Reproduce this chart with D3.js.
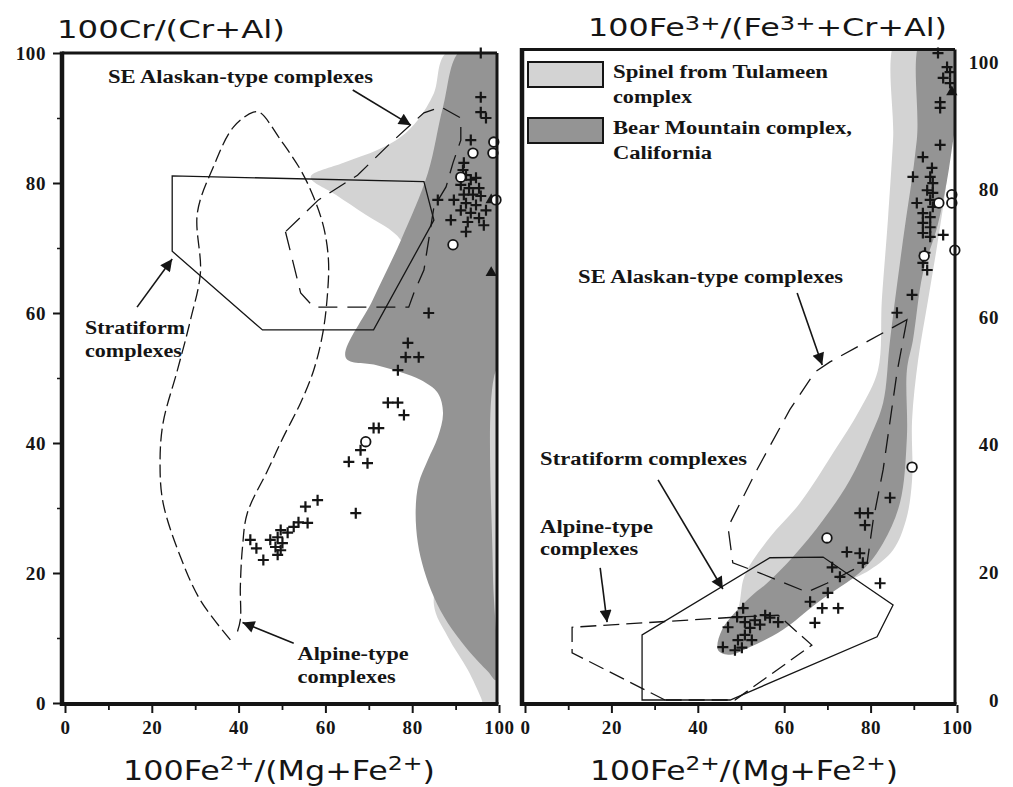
<!DOCTYPE html>
<html><head><meta charset="utf-8">
<script src="https://cdn.jsdelivr.net/npm/d3@7"></script>
<style>
body{margin:0;background:#fff;}
svg{display:block;}
.lab{font-family:"Liberation Serif","Times New Roman",serif;font-weight:bold;font-size:18px;fill:#151515;}
.title{font-family:"DejaVu Sans",Verdana,sans-serif;fill:#151515;}
.tick text{font-family:"Liberation Serif","Times New Roman",serif;font-weight:bold;font-size:19px;letter-spacing:0.6px;fill:#151515;}
</style></head><body>
<svg id="c" width="1013" height="787"></svg>
<script>
// ---------- LEFT PANEL: 100Cr/(Cr+Al) vs 100Fe2+/(Mg+Fe2+) ----------
const leftTulameen = [[87.8,100],[102,102],[102,-2],[97.0,-1],[95.8,0.9],[92.8,5.1],[88.2,10.2],[85.0,15.1],[87.8,25.1],[90.1,38.9],[87.8,49.7],[82.0,62.0],[77.4,71.2],[69.3,75.1],[62.4,78.2],[56.6,80.9],[64.2,83.1],[72.1,85.1],[77.4,87.1],[81.3,89.7],[85.0,93.8]];
const leftBearMtn = [[91.2,100.5],[102,102],[102,55],[98.8,50],[98.6,20],[99.3,3.5],[97.5,4.8],[92.8,8.2],[88.2,12.3],[85.0,16.3],[82.7,20.5],[81.3,24.6],[80.8,29.7],[81.5,33.8],[83.6,37.4],[85.9,40.9],[87.1,44.6],[85.9,47.7],[82.0,49.7],[77.4,50.9],[71.6,52.0],[64.7,53.1],[70.9,62.0],[77.4,71.2],[83.6,81.5],[87.1,91.7]];
const leftStratiform = [[24.7,81.1],[24.7,69.5],[45.5,57.4],[71.1,57.4],[85.0,74.3],[82.7,80.2]];
const leftAlpine = [[38.1,9.7],[31.2,15.8],[26.6,22.5],[22.6,30.8],[21.9,36.9],[22.6,43.1],[25.9,51.2],[28.9,58.9],[31.2,66.2],[30.5,75.4],[34.2,82.5],[38.8,88.6],[43.4,90.9],[45.0,90.8],[49.7,86.6],[54.3,82.0],[57.3,77.8],[59.6,73.2],[60.7,68.2],[60.5,63.1],[59.4,56.9],[57.3,51.2],[54.3,46.2],[50.3,40.9],[46.7,35.8],[42.0,29.2],[40.9,24.0],[40.4,17.8],[40.4,12.8],[39.5,10.5]];
const leftAlaskan = [[50.8,72.5],[54.3,63.1],[57.3,60.9],[79.2,60.9],[80.4,63.1],[82.7,66.6],[85.0,76.3],[87.8,79.4],[89.4,83.1],[91.2,86.6],[91.2,90.0],[86.6,91.7],[82.7,90.8],[75.1,86.2],[67.4,81.2],[58.4,77.4]];
const leftCrosses = [[95.8,100],[95.8,93.2],[95.8,90.9],[97.0,90.0],[93.5,86.6],[91.9,83.1],[91.7,82.0],
 [92.4,81.2],[93.5,80.5],[94.7,80.8],[91.2,79.7],[93.1,79.2],[95.4,79.2],[91.9,78.2],[94.0,78.2],[95.8,78.0],[92.4,76.9],[94.7,76.6],[97.0,75.8],[91.2,75.8],[93.5,75.4],[95.4,74.6],[92.8,74.0],[96.5,73.5],
 [85.9,77.4],[89.6,77.4],[88.9,74.3],[92.4,72.5],
 [83.8,60.0],[79.0,55.4],[78.5,53.2],[81.5,53.2],[76.7,51.2],
 [74.4,46.2],[76.7,46.2],[78.1,44.3],[71.1,42.3],[72.3,42.3],[68.1,38.9],[65.4,37.1],[69.7,36.9],[67.0,29.2],
 [58.2,31.2],[55.4,30.2],[55.9,27.7],[53.8,27.8],[52.7,27.1],[51.3,26.2],[49.7,26.6],[49.0,25.5],[47.3,25.1],[50.1,24.6],[48.5,24.0],[49.7,23.5],[49.0,22.8],[45.7,22.0],[42.7,25.1],[44.1,23.8]];
const leftCircles = [[98.8,86.3],[98.6,84.6],[94.0,84.6],[91.2,80.9],[89.4,70.5],[99.3,77.4],[69.3,40.2]];
const leftTriangles = [[98.2,77.4],[98.2,66.2]];

// ---------- RIGHT PANEL: 100Fe3+/(Fe3++Cr+Al) vs 100Fe2+/(Mg+Fe2+) ----------
const rightTulameen = [[86.3,104],[97.2,104],[98.8,94.0],[97.9,83.1],[95.6,72.1],[93.3,62.7],[91.0,53.3],[89.6,43.9],[89.6,34.5],[88.2,28.2],[85.2,23.5],[79.9,20.4],[72.9,18.0],[63.7,14.1],[56.7,11.0],[50.9,8.6],[48.6,9.4],[49.8,15.7],[50.9,19.6],[56.7,25.5],[63.7,30.9],[71.3,38.7],[77.5,45.5],[81.7,51.7],[82.6,62.7],[84.0,75.2],[85.2,87.8]];
const rightBearMtn = [[92.1,104],[101,104],[100.5,94.0],[99.1,87.7],[97.7,81.5],[95.4,74.1],[92.1,66.9],[89.8,56.4],[88.4,51.7],[88.4,41.2],[86.8,30.9],[82.9,24.6],[78.2,20.4],[67.6,15.2],[59.7,11.0],[52.1,8.3],[47.5,7.1],[44.7,7.8],[45.6,11.0],[52.1,16.1],[56.0,18.3],[62.0,22.4],[69.0,28.2],[75.2,34.5],[79.9,41.2],[82.9,46.6],[84.5,56.4],[87.5,72.1],[90.7,87.8]];
const rightAlaskan = [[88.4,59.6],[86.1,51.3],[82.9,36.1],[80.6,28.2],[79.2,21.5],[75.9,20.4],[69.9,18.3],[65.3,16.9],[54.4,19.9],[48.1,21.5],[47.0,27.1],[53.7,36.1],[61.3,45.5],[67.1,51.4],[70.6,53.0]];
const rightStratiform = [[27.1,0],[27.1,10.2],[56.7,22.3],[69.0,22.4],[85.2,14.9],[81.5,9.9],[47.5,0]];
const rightAlpine = [[32.4,0],[10.9,7.4],[10.9,11.4],[49.1,13.0],[58.6,13.3],[66.4,8.6],[48.6,0]];
const rightCrosses = [[95.6,101.4],[97.7,99.2],[98.4,98.4],[96.8,97.5],[98.4,96.7],[96.1,93.7],[96.1,92.8],[96.1,87.0],[92.1,85.1],[94.2,83.4],[89.8,82.0],[93.8,82.0],[94.4,81.0],[93.1,79.9],[94.4,79.5],[93.8,78.4],[90.7,77.9],[94.4,77.3],[92.1,76.3],[93.8,75.7],[92.1,74.8],[93.8,74.1],[92.1,73.2],[96.8,72.9],[93.8,72.6],[92.6,70.1],[92.1,68.5],[93.1,67.4],[89.6,63.5],[86.1,60.7],
 [84.5,31.7],[77.5,29.3],[79.4,29.3],[78.7,27.4],[74.5,23.2],[77.5,23.0],[78.2,21.5],[71.1,20.8],[72.9,19.3],[82.2,18.3],[70.1,16.8],[66.0,15.4],[68.8,14.4],[72.5,14.4],[67.1,12.1],
 [50.5,14.4],[47.0,11.4],[45.8,8.3],[49.1,13.0],[50.9,12.2],[52.1,11.3],[53.2,12.5],[54.4,11.8],[50.9,10.2],[52.5,9.4],[49.3,9.4],[50.2,8.2],[55.6,13.3],[56.7,12.9],[58.6,12.2],[48.6,7.8]];
const rightCircles = [[95.8,77.9],[98.8,79.2],[98.8,77.9],[99.5,70.5],[92.4,69.6],[89.6,36.5],[69.9,25.4]];
const rightTriangles = [[98.8,95.3]];

// ---------- axis ticks & legend ----------
const majorTicks = [0,20,40,60,80,100];
const minorTicks = [10,30,50,70,90];
const legendItems = [["Spinel from Tulameen","complex"],["Bear Mountain complex,","California"]];

const svg = d3.select('#c');
const COL_LIGHT = '#d3d3d3', COL_DARK = '#949494', INK = '#151515';

const defs = svg.append('defs');
defs.append('marker').attr('id','ah').attr('viewBox','0 0 10 10').attr('refX',10).attr('refY',5)
  .attr('markerUnits','userSpaceOnUse').attr('markerWidth',19).attr('markerHeight',12).attr('orient','auto')
  .append('path').attr('d','M0,0L10,5L0,10z').attr('fill',INK);

const xL = d3.scaleLinear().domain([0,100]).range([65,499]);
const yL = d3.scaleLinear().domain([0,100]).range([703,53]);
const xR = d3.scaleLinear().domain([0,100]).range([525,957]);
const yR = d3.scaleLinear().domain([0,100]).range([700,62]);

function panel(id, x, y, frame, o){
  const g = svg.append('g');
  defs.append('clipPath').attr('id','clip'+id).append('rect')
    .attr('x',frame[0]).attr('y',frame[1]).attr('width',frame[2]-frame[0]).attr('height',frame[3]-frame[1]);
  const pg = g.append('g').attr('clip-path','url(#clip'+id+')');
  const area = d3.line().x(d=>x(d[0])).y(d=>y(d[1])).curve(d3.curveCatmullRomClosed.alpha(0.5));
  const poly = d3.line().x(d=>x(d[0])).y(d=>y(d[1])).curve(d3.curveLinearClosed);
  const open = d3.line().x(d=>x(d[0])).y(d=>y(d[1])).curve(d3.curveCatmullRom.alpha(0.5));
  pg.append('path').attr('d',area(o.light)).attr('fill',COL_LIGHT);
  pg.append('path').attr('d',area(o.dark)).attr('fill',COL_DARK);
  pg.append('path').attr('d',poly(o.strat)).attr('fill','none').attr('stroke',INK).attr('stroke-width',1.3);
  pg.append('path').attr('d',(o.alpineSmooth?open:poly)(o.alpine)).attr('fill','none').attr('stroke',INK).attr('stroke-width',1.3).attr('stroke-dasharray',o.alpineDash);
  pg.append('path').attr('d',poly(o.alaskan)).attr('fill','none').attr('stroke',INK).attr('stroke-width',1.3).attr('stroke-dasharray','19,10');
  // points
  const pts = g.append('g');
  pts.selectAll('path.cr').data(o.crosses).join('path').attr('class','cr')
    .attr('d',d=>`M${x(d[0])-5.5},${y(d[1])}h11M${x(d[0])},${y(d[1])-5.5}v11`)
    .attr('stroke',INK).attr('stroke-width',2.2).attr('fill','none');
  pts.selectAll('path.tr').data(o.tris).join('path').attr('class','tr')
    .attr('transform',d=>`translate(${x(d[0])},${y(d[1])})`)
    .attr('d',d3.symbol(d3.symbolTriangle,55)).attr('fill',INK);
  pts.selectAll('circle').data(o.circles).join('circle')
    .attr('cx',d=>x(d[0])).attr('cy',d=>y(d[1])).attr('r',4.8)
    .attr('fill','#fff').attr('stroke',INK).attr('stroke-width',1.8);
  // annotations
  o.labels.forEach(l=>{
    g.append('text').attr('class','lab').attr('x',x(l[1])).attr('y',y(l[2]))
      .attr('textLength',l[3]).attr('lengthAdjust','spacingAndGlyphs').text(l[0]);
  });
  o.arrows.forEach(a=>{
    g.append('line').attr('x1',x(a[0])).attr('y1',y(a[1])).attr('x2',x(a[2])).attr('y2',y(a[3]))
      .attr('stroke',INK).attr('stroke-width',1.6).attr('marker-end','url(#ah)');
  });
  // frame
  const f = g.append('g').attr('stroke',INK).attr('fill','none');
  f.append('line').attr('x1',frame[0]).attr('x2',frame[2]).attr('y1',frame[1]).attr('y2',frame[1]).attr('stroke-width',3);
  f.append('line').attr('x1',frame[2]).attr('x2',frame[2]).attr('y1',frame[1]).attr('y2',frame[3]).attr('stroke-width',3);
  f.append('line').attr('x1',frame[0]).attr('x2',frame[2]+1.5).attr('y1',frame[3]).attr('y2',frame[3]).attr('stroke-width',4);
  f.append('line').attr('x1',frame[0]).attr('x2',frame[0]).attr('y1',frame[1]-1.5).attr('y2',frame[3]+2).attr('stroke-width',4.5);
  // x axis
  const ax = g.append('g').attr('transform',`translate(0,${frame[3]+1})`)
    .call(d3.axisBottom(x).tickValues(majorTicks).tickSize(8).tickPadding(8));
  ax.select('.domain').remove();
  ax.selectAll('line').attr('stroke-width',2).attr('stroke',INK);
  const axm = g.append('g').attr('transform',`translate(0,${frame[3]+1})`)
    .call(d3.axisBottom(x).tickValues(minorTicks).tickSize(5).tickFormat(''));
  axm.select('.domain').remove();
  axm.selectAll('line').attr('stroke-width',1.8).attr('stroke',INK);
  return g;
}

// left panel
panel('L', xL, yL, [62,53,497,704], {
  light:leftTulameen, dark:leftBearMtn, strat:leftStratiform, alpine:leftAlpine, alpineSmooth:true, alpineDash:'13,5',
  alaskan:leftAlaskan, crosses:leftCrosses, circles:leftCircles, tris:leftTriangles,
  labels:[["SE Alaskan-type complexes",9.9,95.4,265],["Stratiform",4.6,56.8,100],["complexes",4.6,53.2,97],["Alpine-type",53.6,6.6,111],["complexes",53.6,3.1,98]],
  arrows:[[66.3,94.3,79.7,88.9],[16.6,60.9,24.7,68.3],[52.7,9.2,40.9,12.4]]
});
// left y axis
const ayL = svg.append('g').attr('transform','translate(60,0)')
  .call(d3.axisLeft(yL).tickValues(majorTicks).tickSize(7).tickPadding(7));
ayL.select('.domain').remove(); ayL.selectAll('line').attr('stroke-width',2).attr('stroke',INK);
const ayLm = svg.append('g').attr('transform','translate(60,0)')
  .call(d3.axisLeft(yL).tickValues(minorTicks).tickSize(3).tickFormat(''));
ayLm.select('.domain').remove(); ayLm.selectAll('line').attr('stroke-width',1.5).attr('stroke',INK);

// right panel
panel('R', xR, yR, [522,49.5,955,704], {
  light:rightTulameen, dark:rightBearMtn, strat:rightStratiform, alpine:rightAlpine, alpineSmooth:false, alpineDash:'16,7',
  alaskan:rightAlaskan, crosses:rightCrosses, circles:rightCircles, tris:rightTriangles,
  labels:[["SE Alaskan-type complexes",12.3,65.4,265],["Stratiform complexes",3.5,36.8,207],["Alpine-type",3.5,26.2,113],["complexes",3.5,22.7,98]],
  arrows:[[63.0,63.8,68.8,52.5],[30.8,34.5,45.8,17.4],[17.4,20.7,19.0,12.2]]
});
// right y axis labels (no ticks)
const ayR = svg.append('g').attr('transform','translate(958,0)')
  .call(d3.axisRight(yR).tickValues(majorTicks).tickSize(0).tickPadding(0));
ayR.select('.domain').remove();
ayR.selectAll('text').attr('text-anchor','end').attr('x',41);

// legend
const lg = svg.append('g');
legendItems.forEach((it,i)=>{
  const y0 = 62 + i*56;
  lg.append('rect').attr('x',528).attr('y',y0).attr('width',75).attr('height',25)
    .attr('fill',i===0?COL_LIGHT:COL_DARK).attr('stroke',INK).attr('stroke-width',2);
  lg.append('text').attr('class','lab').attr('x',613).attr('y',y0+16).attr('textLength',i===0?215:239).attr('lengthAdjust','spacingAndGlyphs').text(it[0]);
  lg.append('text').attr('class','lab').attr('x',613).attr('y',y0+41).attr('textLength',i===0?79:99).attr('lengthAdjust','spacingAndGlyphs').text(it[1]);
});

// titles
function title(xp, yp, size, len, supSize, parts){
  const t = svg.append('text').attr('class','title').attr('x',xp).attr('y',yp).attr('font-size',size)
    .attr('textLength',len).attr('lengthAdjust','spacingAndGlyphs');
  let up = false;
  parts.forEach(p=>{
    const s = t.append('tspan').text(p[0]);
    if(p[1] && !up){ s.attr('font-size',supSize).attr('dy',-p[1]); up=true; }
    else if(!p[1] && up){ s.attr('dy',p[2]); up=false; }
  });
}
title(57,38,25,228,18,[["100Cr/(Cr+Al)",0]]);
title(588,36,25,359,19,[["100Fe",0],["3+",6],["/(Fe",0,6],["3+",6],["+Cr+Al)",0,6]]);
title(123,780,27,312,20,[["100Fe",0],["2+",10],["/(Mg+Fe",0,10],["2+",10],[")",0,10]]);
title(590,780,27,308,20,[["100Fe",0],["2+",10],["/(Mg+Fe",0,10],["2+",10],[")",0,10]]);
</script>
</body></html>
